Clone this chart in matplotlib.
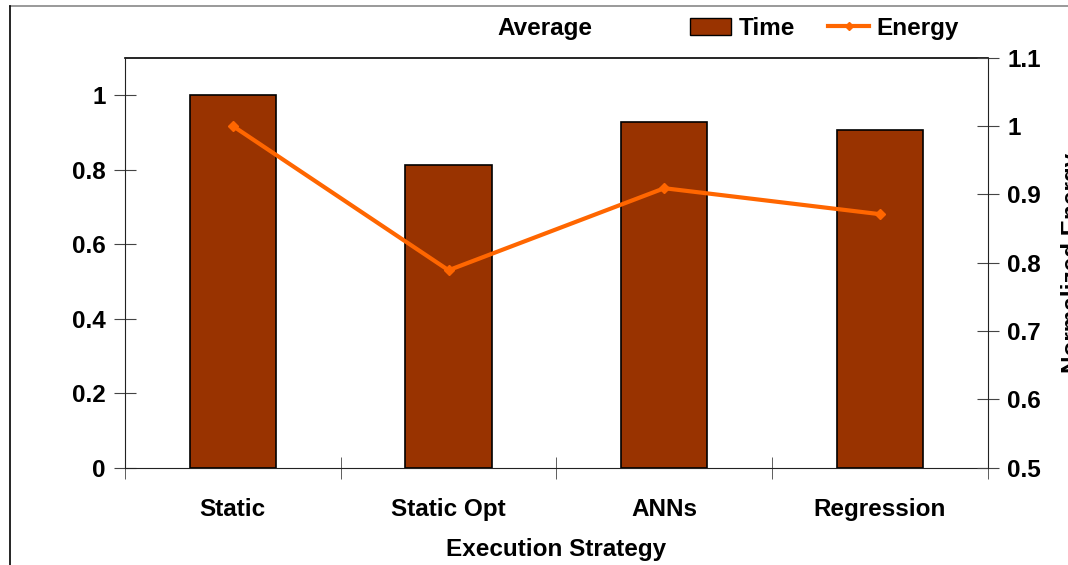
import numpy as np
import matplotlib.pyplot as plt
from matplotlib.lines import Line2D
from matplotlib.patches import Patch

plt.rcParams['font.family'] = ['Liberation Sans', 'DejaVu Sans']
plt.rcParams['font.weight'] = 'bold'

strategies = ['Static', 'Static Opt', 'ANNs', 'Regression']
time_avg = [1.0, 0.812, 0.927, 0.905]
energy_avg = [1.0, 0.789, 0.909, 0.871]

BAR_COLOR = '#993300'
LINE_COLOR = '#FF6600'
FS = 17.5

fig = plt.figure(figsize=(10.68, 5.65), dpi=100)
ax = fig.add_axes([0.117, 0.172, 0.808, 0.726])

x = np.arange(len(strategies))
ax.bar(x, time_avg, width=0.4, color=BAR_COLOR, edgecolor='black', linewidth=1.2, zorder=2)
ax.set_xlim(-0.5, len(strategies) - 0.5)
ax.set_ylim(0, 1.1)
ax.set_yticks([0, 0.2, 0.4, 0.6, 0.8, 1])
ax.set_yticklabels(['0', '0.2', '0.4', '0.6', '0.8', '1'])
ax.set_xticks(x)
ax.set_xticklabels(strategies)
ax.set_xticks(np.arange(len(strategies) + 1) - 0.5, minor=True)
ax.tick_params(axis='x', which='major', length=0, pad=22, labelsize=FS)
ax.tick_params(axis='x', which='minor', direction='inout', length=16, color='#444444')
ax.tick_params(axis='y', direction='inout', length=16, color='#444444', labelsize=FS, pad=6)
ax.set_xlabel('Execution Strategy', fontsize=FS, fontweight='bold', labelpad=12)
for s in ['top', 'right']:
    ax.spines[s].set_visible(False)
ax.spines['left'].set_color('#222222')
ax.spines['bottom'].set_color('#222222')
# top edge of the plot area
ax.plot([0, 1], [1, 1], transform=ax.transAxes, color='black', lw=1.2, clip_on=False)

ax2 = ax.twinx()
ax2.plot(x, energy_avg, color=LINE_COLOR, lw=3, marker='D', markersize=5, zorder=3)
ax2.set_ylim(0.5, 1.1)
ax2.set_yticks([0.5, 0.6, 0.7, 0.8, 0.9, 1.0, 1.1])
ax2.set_yticklabels(['0.5', '0.6', '0.7', '0.8', '0.9', '1', '1.1'])
ax2.tick_params(axis='y', direction='inout', length=16, color='#444444', labelsize=FS, pad=6)
for s in ['top', 'left', 'bottom']:
    ax2.spines[s].set_visible(False)
ax2.spines['right'].set_color('#222222')
ax2.set_ylabel('Normalized Energy', fontsize=FS, fontweight='bold', rotation=90, labelpad=14)

# legend row above the plot
fig.text(0.51, 0.95, 'Average', ha='center', va='center', fontsize=FS, fontweight='bold')
handles = [Patch(facecolor=BAR_COLOR, edgecolor='black'),
           Line2D([0], [0], color=LINE_COLOR, lw=3, marker='D', markersize=4)]
fig.legend(handles, ['Time', 'Energy'], loc='center', bbox_to_anchor=(0.772, 0.95), ncol=2,
           frameon=False, handlelength=1.7, handletextpad=0.3, columnspacing=1.35,
           borderpad=0, prop={'weight': 'bold', 'size': FS})

# outer frame of the figure
fig.add_artist(Line2D([0.0095, 1], [0.989, 0.989], transform=fig.transFigure, color='#888888', lw=1.2))
fig.add_artist(Line2D([0.0095, 0.0095], [0, 0.989], transform=fig.transFigure, color='black', lw=1.2))

fig.savefig('out.png', dpi=100)
